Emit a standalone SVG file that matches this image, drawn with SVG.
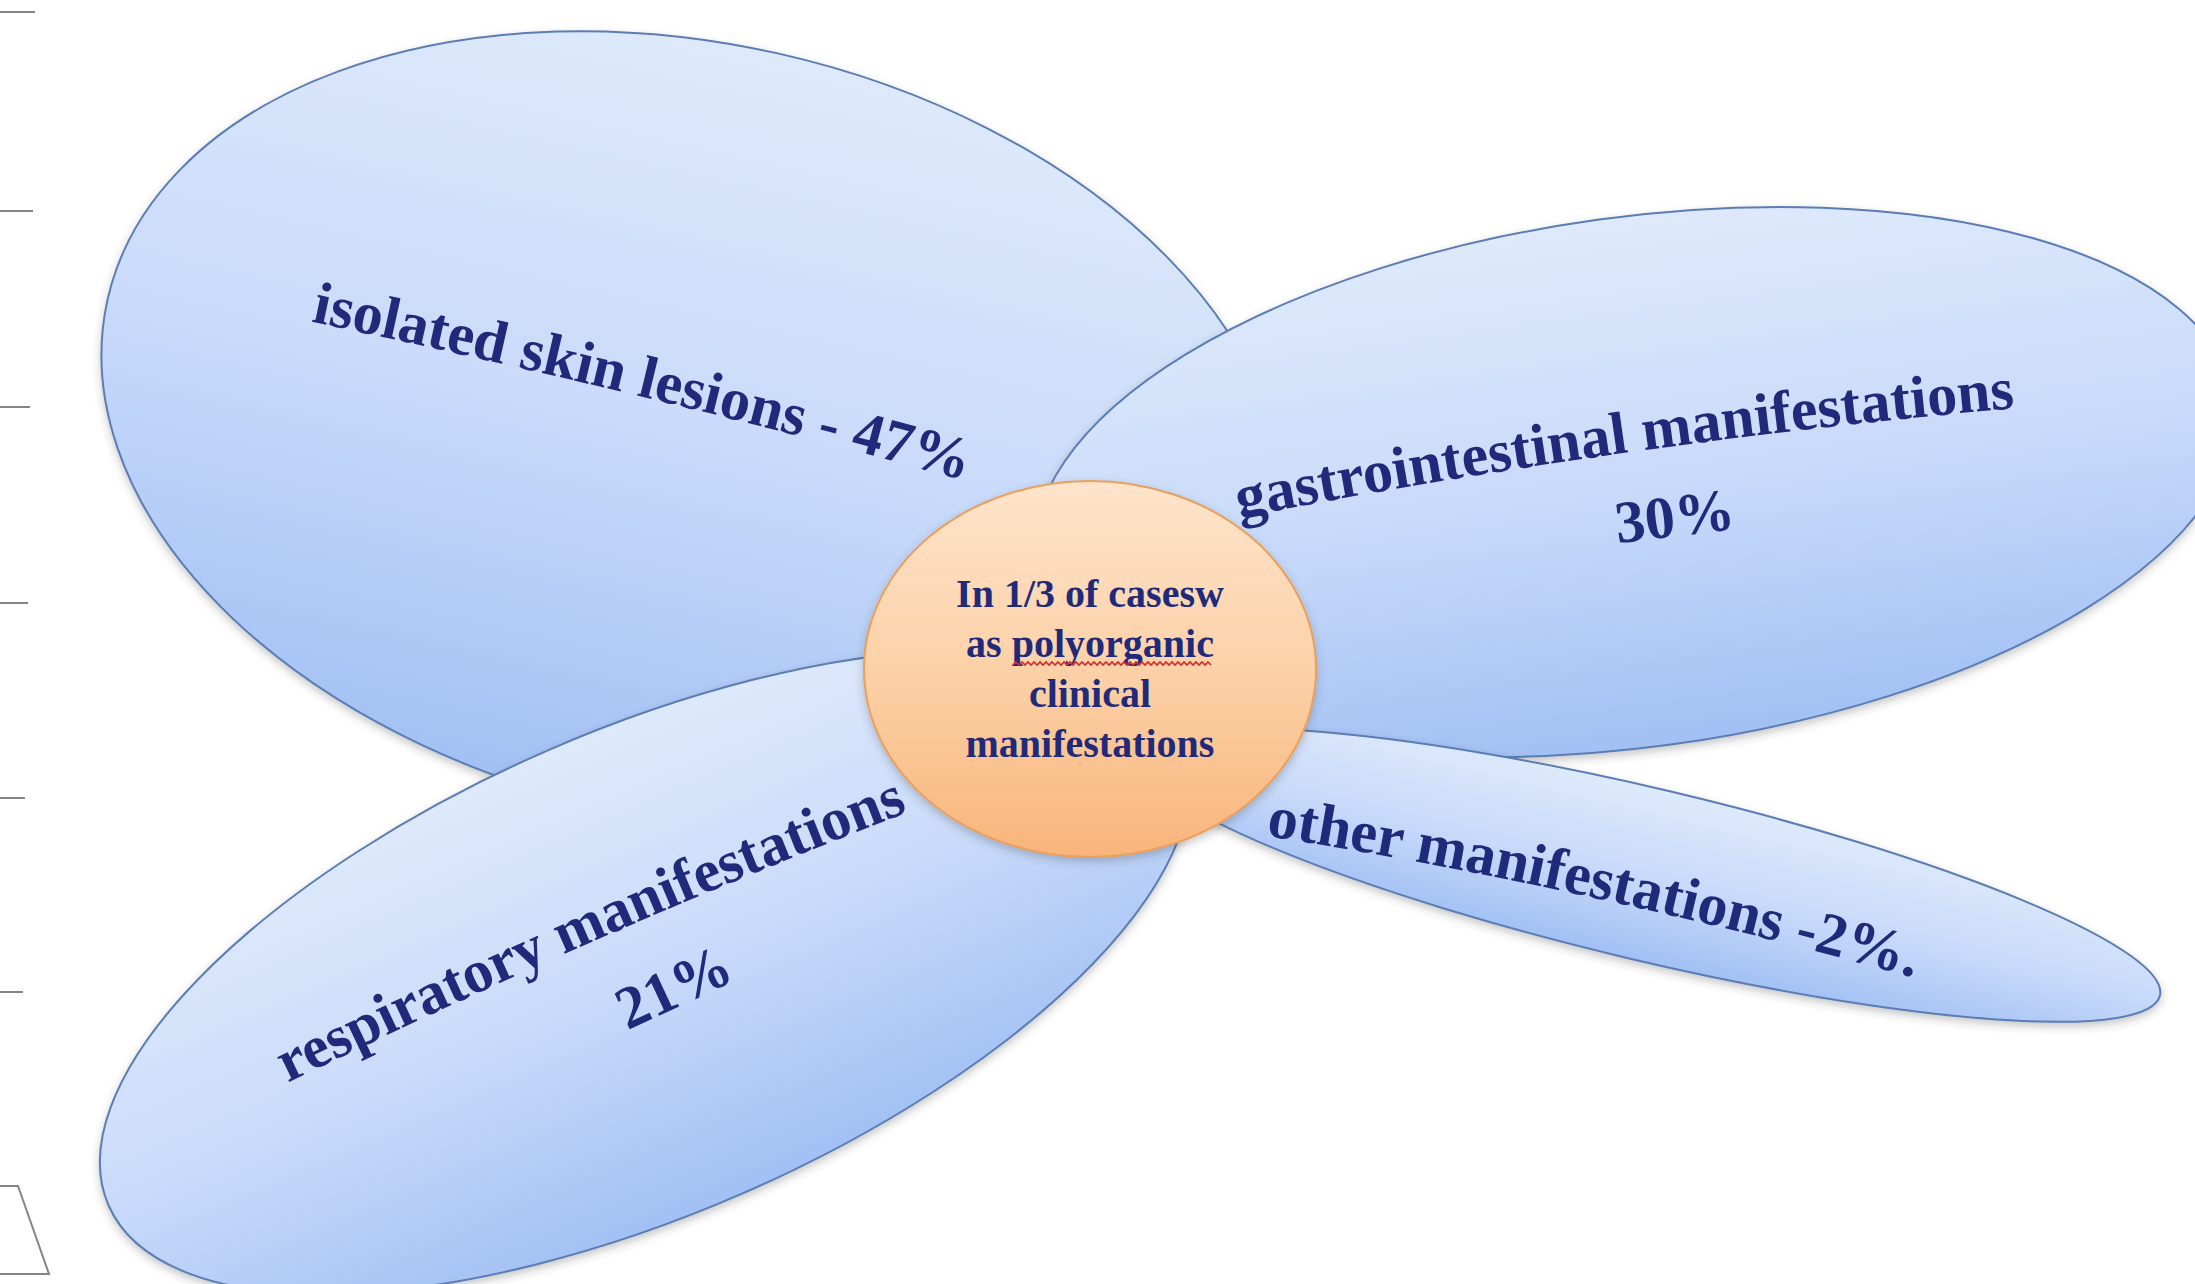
<svg xmlns="http://www.w3.org/2000/svg" width="2195" height="1284" viewBox="0 0 2195 1284">
  <style>
    .lobe { fill: url(#blueFill); stroke: #5b7db3; stroke-width: 2; }
    .hub { fill: url(#peachFill); stroke: #eaa05c; stroke-width: 2; }
    .label { font-family: "Liberation Serif", "DejaVu Serif", serif; font-weight: bold; fill: #1f2a7a; font-size: 60px; }
    .hub-label { font-family: "Liberation Serif", "DejaVu Serif", serif; font-weight: bold; fill: #1f2a7a; font-size: 40px; text-anchor: middle; }
    .mark { stroke: #858585; stroke-width: 2; fill: none; }
    .squiggle { stroke: #d42a2a; stroke-width: 1.6; fill: none; }
  </style>
  <defs>
    <linearGradient id="blueFill" x1="0" y1="0" x2="0" y2="1">
      <stop offset="0" stop-color="#dee9fb"/>
      <stop offset="0.5" stop-color="#c9dbfa"/>
      <stop offset="1" stop-color="#a2c0f4"/>
    </linearGradient>
    <linearGradient id="peachFill" x1="0" y1="0" x2="0" y2="1">
      <stop offset="0" stop-color="#fde4cb"/>
      <stop offset="0.5" stop-color="#fcd1a8"/>
      <stop offset="1" stop-color="#f8b57a"/>
    </linearGradient>
    <filter id="shadow" x="-10%" y="-10%" width="120%" height="130%">
      <feDropShadow dx="0" dy="4" stdDeviation="4" flood-color="#3a3a3a" flood-opacity="0.28"/>
    </filter>
    <!-- baselines for the arched labels -->
    <path id="pathSkin" d="M313 322 Q657.6 395.2 963 480"/>
    <path id="pathGastro" d="M1237 518 Q1627.5 442.1 2017 408"/>
    <path id="pathOther" d="M1268 836 Q1583.9 886 1912 977"/>
    <path id="pathResp" d="M283 1085 Q602 929.4 913 810"/>
  </defs>

  <!-- page margin marks -->
  <g id="margin-marks">
    <line class="mark" x1="0" y1="12" x2="35" y2="12"/>
    <line class="mark" x1="0" y1="211" x2="33" y2="211"/>
    <line class="mark" x1="0" y1="407" x2="30" y2="407"/>
    <line class="mark" x1="0" y1="603" x2="28" y2="603"/>
    <line class="mark" x1="0" y1="798" x2="25" y2="798"/>
    <line class="mark" x1="0" y1="992" x2="23" y2="992"/>
    <path class="mark" d="M0 1186 H18 L49 1274 H0"/>
  </g>

  <!-- no connectors: petals meet at the hub -->
  <g id="connectors"></g>

  <g id="node-skin">
    <g filter="url(#shadow)">
      <ellipse class="lobe" transform="translate(693 431) rotate(12.65)" rx="600" ry="387"/>
    </g>
    <text class="label"><textPath href="#pathSkin" startOffset="50%" text-anchor="middle">isolated skin lesions - 47%</textPath></text>
  </g>

  <g id="node-gastro">
    <g filter="url(#shadow)">
      <ellipse class="lobe" transform="translate(1635 482) rotate(-7.8)" rx="605" ry="265"/>
    </g>
    <text class="label"><textPath href="#pathGastro" startOffset="50%" text-anchor="middle">gastrointestinal manifestations</textPath></text>
    <text class="label" x="1677" y="536" text-anchor="middle" transform="rotate(-7 1677 536)">30%</text>
  </g>

  <g id="node-other">
    <g filter="url(#shadow)">
      <ellipse class="lobe" transform="translate(1650 875) rotate(13.3)" rx="524" ry="86"/>
    </g>
    <text class="label"><textPath href="#pathOther" startOffset="50%" text-anchor="middle">other manifestations -2%.</textPath></text>
  </g>

  <g id="node-respiratory">
    <g filter="url(#shadow)">
      <ellipse class="lobe" transform="translate(645 972) rotate(-23.5)" rx="585" ry="242"/>
    </g>
    <text class="label"><textPath href="#pathResp" startOffset="50%" text-anchor="middle">respiratory manifestations</textPath></text>
    <text class="label" x="682" y="1005" text-anchor="middle" transform="rotate(-25 682 1005)">21%</text>
  </g>

  <g id="node-hub">
    <g filter="url(#shadow)">
      <ellipse class="hub" cx="1090" cy="669" rx="226" ry="188"/>
    </g>
    <text class="hub-label" x="1090" y="607">In 1/3 of casesw</text>
    <text class="hub-label" x="1090" y="657">as polyorganic</text>
    <path class="squiggle" d="M1013 665 l3 -3 l3 3 l3 -3 l3 3 l3 -3 l3 3 l3 -3 l3 3 l3 -3 l3 3 l3 -3 l3 3 l3 -3 l3 3 l3 -3 l3 3 l3 -3 l3 3 l3 -3 l3 3 l3 -3 l3 3 l3 -3 l3 3 l3 -3 l3 3 l3 -3 l3 3 l3 -3 l3 3 l3 -3 l3 3 l3 -3 l3 3 l3 -3 l3 3 l3 -3 l3 3 l3 -3 l3 3 l3 -3 l3 3 l3 -3 l3 3 l3 -3 l3 3 l3 -3 l3 3 l3 -3 l3 3 l3 -3 l3 3 l3 -3 l3 3 l3 -3 l3 3 l3 -3 l3 3 l3 -3 l3 3 l3 -3 l3 3 l3 -3 l3 3 l3 -3 l3 3"/>
    <text class="hub-label" x="1090" y="707">clinical</text>
    <text class="hub-label" x="1090" y="757">manifestations</text>
  </g>
</svg>
